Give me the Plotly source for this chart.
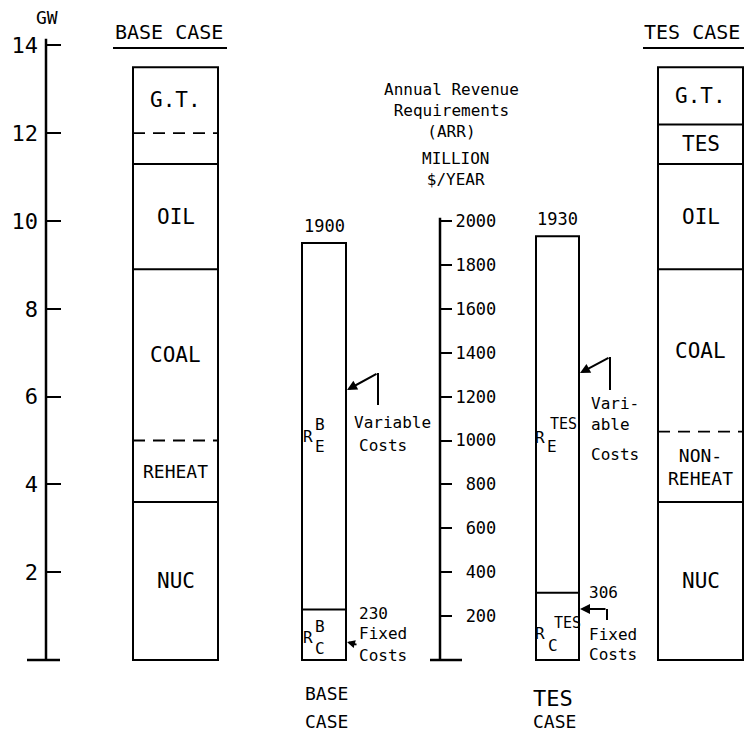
import plotly.graph_objects as go

# installed capacity stacks, GW (top of each block, bottom to top)
base_tops = [3.6, 5.0, 8.9, 11.3, 12.0, 13.5]
base_names = ["NUC", "REHEAT", "COAL", "OIL", "", "G.T."]
base_dashed = [False, True, False, False, True, False]

tes_tops = [3.6, 5.2, 8.9, 11.3, 12.2, 13.5]
tes_names = ["NUC", "NON-<br>REHEAT", "COAL", "OIL", "TES", "G.T."]
tes_dashed = [False, True, False, False, False, False]

# annual revenue requirements, million $/year
arr_cases = ["BASE", "TES"]
arr_total = [1900, 1930]
arr_fixed = [230, 306]

gw_ticks = [2, 4, 6, 8, 10, 12, 14]
arr_ticks = [200, 400, 600, 800, 1000, 1200, 1400, 1600, 1800, 2000]

W, H = 744, 731
Y0 = 660            # pixel row of zero
PX_PER_GW = 43.9
ARR_PER_GW = 200
ymin = -(H - Y0) / PX_PER_GW
ymax = Y0 / PX_PER_GW
MONO = "DejaVu Sans Mono"

col_x = [175.5, 700.5]
col_w = 85
arr_x = [324, 557.5]
arr_w = 44


def py(p):
    return 1 - p / H


fig = go.Figure()

# capacity columns
fig.add_trace(go.Bar(x=col_x, y=[base_tops[-1], tes_tops[-1]], width=[col_w, col_w],
                     marker=dict(color="white", line=dict(color="black", width=2)),
                     hoverinfo="skip", showlegend=False))

annotations = []
for cx, tops, names, dashed in [(col_x[0], base_tops, base_names, base_dashed),
                                (col_x[1], tes_tops, tes_names, tes_dashed)]:
    x0, x1 = cx - col_w / 2, cx + col_w / 2
    for style in (False, True):
        xs, ys = [], []
        for t, d in zip(tops[:-1], dashed[:-1]):
            if d == style:
                xs += [x0, x1, None]
                ys += [t, t, None]
        if xs:
            fig.add_trace(go.Scatter(x=xs, y=ys, mode="lines", showlegend=False, hoverinfo="skip",
                                     line=dict(color="black", width=2 if not style else 1.8,
                                               dash="12px,8px" if style else "solid")))
    bottoms = [0] + tops[:-1]
    for b, t, n in zip(bottoms, tops, names):
        if n:
            annotations.append(dict(text=n, x=cx, y=(b + t) / 2, xref="x", yref="y", showarrow=False,
                                    yanchor="middle",
                                    font=dict(family=MONO, size=18 if "REHEAT" in n else 21, color="black")))

# ARR bars
fig.add_trace(go.Bar(x=arr_x, y=arr_total, width=[arr_w, arr_w - 1], yaxis="y2",
                     marker=dict(color="white", line=dict(color="black", width=2)),
                     hoverinfo="skip", showlegend=False))
xs, ys = [], []
for cx, f in zip(arr_x, arr_fixed):
    xs += [cx - arr_w / 2, cx + arr_w / 2, None]
    ys += [f, f, None]
fig.add_trace(go.Scatter(x=xs, y=ys, yaxis="y2", mode="lines", showlegend=False, hoverinfo="skip",
                         line=dict(color="black", width=2)))
for cx, tot in zip(arr_x, arr_total):
    annotations.append(dict(text=str(tot), x=cx, y=tot, xref="x", yref="y2", yshift=17, showarrow=False,
                            yanchor="middle", font=dict(family=MONO, size=17, color="black")))


def label(text, x, y, size=16, anchor="center"):
    annotations.append(dict(text=text, x=x, y=py(y), xref="x", yref="paper", showarrow=False,
                            xanchor=anchor, yanchor="middle",
                            font=dict(family=MONO, size=size, color="black")))


label("GW", 47, 18, 18)
label("BASE CASE", 169, 32, 20)
label("TES CASE", 692, 32, 20)
label("Annual Revenue<br>Requirements<br>(ARR)", 451, 110, 16)
label("MILLION<br>$/YEAR", 420, 169, 16, "left")

# R symbols
label("R", 308, 436); label("B", 320, 424); label("E", 320, 446)
label("R", 308, 637); label("B", 320, 626); label("C", 320, 648)
label("R", 540, 437); label("TES", 563, 424, 15); label("E", 552, 446)
label("R", 540, 633); label("TES", 567, 623, 15); label("C", 553, 645)

label("Variable", 352, 423, anchor="left"); label("Costs", 357, 445, anchor="left")
label("230", 357, 613, anchor="left"); label("Fixed", 357, 633, anchor="left")
label("Costs", 357, 655, anchor="left")
label("Vari-", 589, 403, anchor="left"); label("able", 589, 424, anchor="left")
label("Costs", 589, 455, anchor="left")
label("306", 587, 592, anchor="left"); label("Fixed", 587, 634, anchor="left")
label("Costs", 587, 654, anchor="left")

label("BASE", 303, 693, 18, "left"); label("CASE", 303, 721, 18, "left")
label("TES", 531, 698, 22, "left"); label("CASE", 531, 721, 18, "left")

# arrows
for hx, hy, tx, ty, sz in [(347, 390, 378, 373, 1), (347, 642, 358, 645, 0.8),
                           (580, 373, 610, 357, 1), (580, 609, 607, 609, 1)]:
    annotations.append(dict(x=hx, y=py(hy), xref="x", yref="paper", ax=tx - hx, ay=ty - hy,
                            axref="pixel", ayref="pixel", showarrow=True, arrowhead=2,
                            arrowsize=sz, arrowwidth=2, arrowcolor="black", text=""))

shapes = []


def seg(x0, y0, x1, y1, yref="paper", w=2):
    shapes.append(dict(type="line", x0=x0, x1=x1, y0=y0, y1=y1, xref="x", yref=yref,
                       line=dict(color="black", width=w)))


seg(378, py(373), 378, py(405))
seg(610, py(357), 610, py(390))
seg(607, py(609), 607, py(620))
seg(113, py(48), 227, py(48))
seg(643, py(48), 744, py(48))
# axis lines and base lines
seg(46, 0, 46, 14.15, "y", 2.5)
seg(27, 0, 60, 0, "y", 2.5)
seg(440, 0, 440, 2015, "y2", 2.5)
seg(430, 0, 462, 0, "y2", 2.5)

fig.update_layout(
    width=W, height=H, margin=dict(l=0, r=0, t=0, b=0),
    paper_bgcolor="white", plot_bgcolor="white", barmode="overlay",
    xaxis=dict(range=[0, W], visible=False, fixedrange=True),
    yaxis=dict(range=[ymin, ymax], anchor="free", position=46 / W, side="left",
               tickvals=gw_ticks, ticks="inside", ticklen=14, tickwidth=1.5, tickcolor="black",
               showgrid=False, zeroline=False, showline=False, ticklabelstandoff=8,
               tickfont=dict(family=MONO, size=22, color="black")),
    yaxis2=dict(range=[ymin * ARR_PER_GW, ymax * ARR_PER_GW], overlaying="y", anchor="free",
                position=440 / W, side="right", tickvals=arr_ticks,
                ticktext=[str(v).rjust(4, "\u00a0") for v in arr_ticks],
                ticks="outside", ticklen=11, tickwidth=1.5, tickcolor="black",
                showgrid=False, zeroline=False, showline=False,
                tickfont=dict(family=MONO, size=17, color="black")),
    annotations=annotations, shapes=shapes,
)

fig.write_html("out.html", config={"displayModeBar": False},
               post_script="document.body.style.margin='0';")
